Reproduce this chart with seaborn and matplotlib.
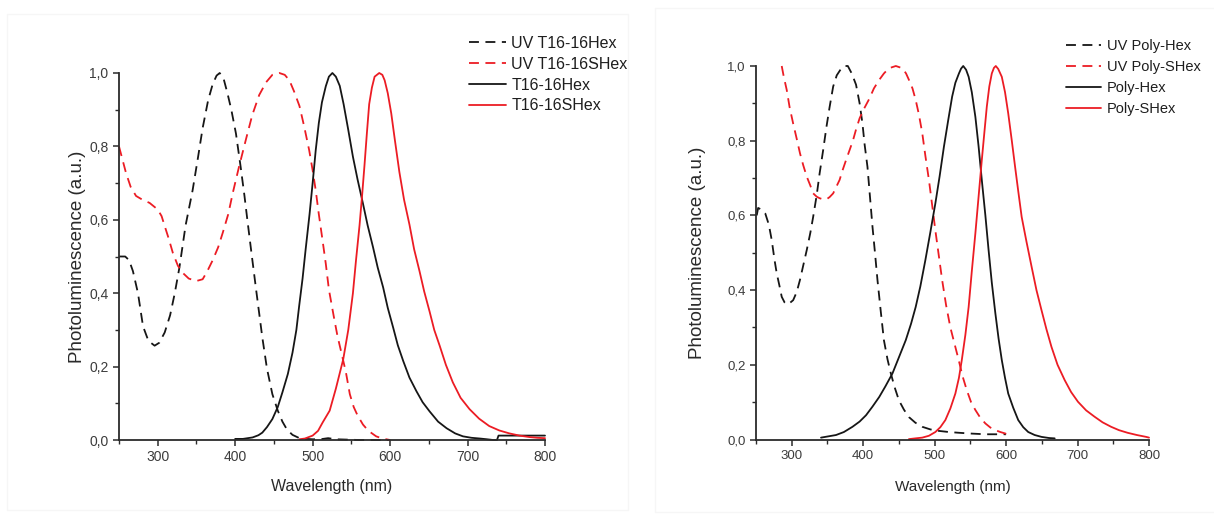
import numpy as np
import pandas as pd
import matplotlib
matplotlib.use("Agg")
import matplotlib.pyplot as plt
from matplotlib.ticker import MultipleLocator, FuncFormatter
from matplotlib.patches import Rectangle
import seaborn as sns

# ---------------- data: left panel (T16-16 oligomers) ----------------
uv_t16_hex_wl = [250, 258, 263, 268, 274.5, 281, 288, 296, 302, 309, 316, 322, 328, 336, 345,
                 352, 358, 365, 371, 376, 380, 385, 390, 395, 401, 407, 412, 416, 421, 427,
                 431, 435, 441, 448, 455, 461, 467, 474, 482, 491, 500, 510, 520, 530, 545,
                 560, 580, 600]
uv_t16_hex = [0.50, 0.50, 0.49, 0.46, 0.40, 0.31, 0.27, 0.257, 0.265, 0.293, 0.34, 0.40, 0.47,
              0.585, 0.68, 0.77, 0.85, 0.925, 0.97, 0.993, 1.0, 0.985, 0.945, 0.90, 0.835,
              0.745, 0.665, 0.595, 0.51, 0.41, 0.345, 0.28, 0.195, 0.125, 0.08, 0.05, 0.028,
              0.014, 0.006, 0.003, 0.002, 0.002, 0.005, 0.002, 0.001, 0.0, 0.0, 0.0]

uv_t16_shex_wl = [250, 255, 259, 265, 272, 280, 289.5, 300, 305, 309, 314, 319.5, 326, 332, 340,
                  349.5, 358, 364, 371, 378, 384, 391, 397, 405, 414, 422, 431, 440, 448, 457,
                  464, 470, 476, 483, 489, 495.5, 500, 504, 508, 512.6, 517, 521, 527, 532, 538,
                  543, 548, 553, 558, 565, 572, 582, 590, 600]
uv_t16_shex = [0.80, 0.76, 0.728, 0.69, 0.665, 0.655, 0.646, 0.628, 0.61, 0.583, 0.55, 0.51,
               0.475, 0.456, 0.44, 0.433, 0.438, 0.46, 0.49, 0.525, 0.565, 0.615, 0.674, 0.745,
               0.82, 0.885, 0.94, 0.975, 0.995, 1.0, 0.995, 0.98, 0.95, 0.91, 0.855, 0.79,
               0.735, 0.68, 0.615, 0.547, 0.48, 0.41, 0.34, 0.284, 0.23, 0.184, 0.125, 0.09,
               0.067, 0.042, 0.025, 0.01, 0.004, 0.0]

t16_hex_wl = [400, 410, 422.5, 430, 435, 441, 448, 455, 461, 468, 474, 479, 482.6, 487, 491,
              496, 500, 504, 508, 512, 517, 521, 525.5, 530, 535, 540, 546, 552, 558, 565,
              571, 578, 584, 591, 597, 604, 610, 617, 625, 634, 642, 651, 662, 673, 684, 694,
              705, 716, 725, 733, 738, 740, 750, 770, 800]
t16_hex = [0.003, 0.003, 0.007, 0.013, 0.02, 0.035, 0.057, 0.09, 0.13, 0.18, 0.238, 0.30,
           0.365, 0.44, 0.52, 0.615, 0.70, 0.79, 0.864, 0.92, 0.964, 0.99, 1.0, 0.99, 0.965,
           0.915, 0.845, 0.772, 0.71, 0.644, 0.585, 0.525, 0.47, 0.416, 0.36, 0.306, 0.258,
           0.215, 0.17, 0.133, 0.103, 0.078, 0.05, 0.032, 0.018, 0.01, 0.006, 0.004, 0.002,
           0.0, 0.0, 0.012, 0.012, 0.012, 0.012]

t16_shex_wl = [483, 490, 500, 507, 513, 522, 530, 539.5, 546, 552, 556, 560.6, 564, 567, 570,
               573, 576.5, 580, 586, 590, 593, 597, 601.5, 606, 612, 618, 625, 631, 638, 644,
               651, 657, 664, 672, 681, 691, 702.6, 715, 728, 741, 754, 767, 780, 790, 800]
t16_shex = [0.002, 0.004, 0.012, 0.025, 0.048, 0.08, 0.14, 0.22, 0.30, 0.40, 0.49, 0.586,
            0.67, 0.75, 0.835, 0.915, 0.96, 0.99, 1.0, 0.995, 0.98, 0.945, 0.89, 0.82, 0.73,
            0.655, 0.587, 0.52, 0.46, 0.405, 0.35, 0.30, 0.257, 0.205, 0.157, 0.115, 0.084,
            0.058, 0.038, 0.026, 0.018, 0.012, 0.008, 0.006, 0.005]

# ---------------- data: right panel (polymers) ----------------
uv_poly_hex_wl = [251, 253, 258, 263, 268, 272, 276, 279, 283, 286, 290, 293, 297, 302, 307,
                  311.5, 316, 321, 326, 330, 335, 339, 344, 348.6, 353, 358, 363, 369.5, 374,
                  378.5, 384, 390, 395, 399, 402, 406, 409.5, 413, 416.5, 420, 424.5, 429, 434,
                  438.7, 444, 450, 457, 464, 473, 482.7, 494, 506, 520, 534, 550, 571, 600]
uv_poly_hex = [0.60, 0.62, 0.615, 0.605, 0.575, 0.534, 0.48, 0.445, 0.41, 0.382, 0.367, 0.362,
               0.365, 0.373, 0.395, 0.427, 0.465, 0.507, 0.553, 0.596, 0.655, 0.712, 0.775,
               0.837, 0.89, 0.945, 0.975, 0.994, 1.0, 1.0, 0.98, 0.95, 0.90, 0.846, 0.79, 0.73,
               0.65, 0.57, 0.50, 0.427, 0.345, 0.266, 0.215, 0.177, 0.14, 0.105, 0.08, 0.06,
               0.045, 0.034, 0.027, 0.023, 0.02, 0.018, 0.016, 0.014, 0.014]

uv_poly_shex_wl = [286, 289, 293, 297, 302, 307, 311.6, 316, 321, 326, 330, 335, 339, 344, 348.6,
                   353, 358, 362, 367, 371, 376, 381, 385.6, 390, 395, 401, 408.5, 415, 422.5,
                   429, 436, 445.7, 455, 460, 464, 469, 473.5, 478, 482.7, 487, 492, 496.5, 501,
                   506, 510.5, 516, 522, 528, 533.7, 539, 545, 551, 557, 564, 571, 578, 585, 592,
                   599, 600]
uv_poly_shex = [1.0, 0.97, 0.936, 0.89, 0.846, 0.805, 0.766, 0.735, 0.704, 0.68, 0.659, 0.65,
                0.646, 0.643, 0.643, 0.649, 0.659, 0.675, 0.695, 0.72, 0.748, 0.775, 0.80, 0.83,
                0.86, 0.885, 0.912, 0.94, 0.963, 0.98, 0.994, 1.0, 0.994, 0.98, 0.963, 0.94,
                0.909, 0.87, 0.82, 0.76, 0.695, 0.628, 0.56, 0.49, 0.427, 0.36, 0.30, 0.255,
                0.2125, 0.17, 0.132, 0.10, 0.079, 0.058, 0.043, 0.032, 0.025, 0.02, 0.016, 0.015]

poly_hex_wl = [341, 350, 362, 373, 385, 395, 404, 413, 422.5, 431, 441, 450, 459.6, 467, 473.5,
               480, 487, 494, 501, 507, 513, 519, 524.5, 529, 534, 537, 540, 544, 547.6, 552,
               557, 561.5, 566, 571, 575.5, 580, 585, 589.5, 594, 598.5, 603, 610, 617, 624,
               631, 640, 649.6, 660, 668]
poly_hex = [0.005, 0.008, 0.012, 0.02, 0.034, 0.048, 0.065, 0.088, 0.114, 0.142, 0.177, 0.22,
            0.266, 0.31, 0.355, 0.41, 0.48, 0.555, 0.632, 0.705, 0.784, 0.855, 0.918, 0.955,
            0.98, 0.993, 1.0, 0.99, 0.971, 0.93, 0.864, 0.785, 0.695, 0.60, 0.507, 0.42,
            0.3375, 0.27, 0.2125, 0.165, 0.123, 0.085, 0.052, 0.033, 0.02, 0.012, 0.007,
            0.004, 0.003]

poly_shex_wl = [464, 473, 482.7, 492, 501, 508, 515, 522, 529, 534, 538, 543, 547.6, 552, 557,
                561.5, 566, 569.5, 573, 576.5, 580, 583, 585.6, 589, 594, 598.5, 603, 608,
                612.6, 617, 621.8, 628.5, 635.7, 642.5, 649.6, 656.5, 663.5, 672, 682, 691,
                700.6, 712, 723.8, 735, 747, 758, 770, 783, 796, 800]
poly_shex = [0.001, 0.003, 0.005, 0.01, 0.02, 0.033, 0.052, 0.083, 0.123, 0.165, 0.2125, 0.28,
             0.355, 0.45, 0.552, 0.65, 0.748, 0.82, 0.891, 0.945, 0.98, 0.995, 1.0, 0.992,
             0.971, 0.93, 0.873, 0.80, 0.73, 0.665, 0.596, 0.53, 0.4625, 0.40, 0.346, 0.295,
             0.248, 0.20, 0.159, 0.127, 0.101, 0.078, 0.061, 0.046, 0.034, 0.025, 0.018,
             0.012, 0.007, 0.005]

left_labels = ["UV T16-16Hex", "UV T16-16SHex", "T16-16Hex", "T16-16SHex"]
right_labels = ["UV Poly-Hex", "UV Poly-SHex", "Poly-Hex", "Poly-SHex"]
x_ticks = [300, 400, 500, 600, 700, 800]
y_ticks = [0.0, 0.2, 0.4, 0.6, 0.8, 1.0]

BLACK = "#161616"
RED = "#ec1c24"


def long_frame(labels, series):
    frames = []
    for lab, (wl, val) in zip(labels, series):
        frames.append(pd.DataFrame({"wavelength": wl, "intensity": val, "series": lab}))
    return pd.concat(frames, ignore_index=True)


left_df = long_frame(left_labels, [(uv_t16_hex_wl, uv_t16_hex), (uv_t16_shex_wl, uv_t16_shex),
                                   (t16_hex_wl, t16_hex), (t16_shex_wl, t16_shex)])
right_df = long_frame(right_labels, [(uv_poly_hex_wl, uv_poly_hex), (uv_poly_shex_wl, uv_poly_shex),
                                     (poly_hex_wl, poly_hex), (poly_shex_wl, poly_shex)])

sns.set_theme(style="white")
plt.rcParams["font.family"] = ["Liberation Sans", "DejaVu Sans"]

fig = plt.figure(figsize=(12.14, 5.17), dpi=100)
fig.patch.set_facecolor("white")

# very faint frames around each panel
fig.patches.append(Rectangle((7 / 1214, 1 - 510 / 517), 621 / 1214, 496 / 517,
                             transform=fig.transFigure, fill=False,
                             edgecolor="#f6f6f6", lw=1.0))
fig.patches.append(Rectangle((655 / 1214, 1 - 512 / 517), 560 / 1214, 504 / 517,
                             transform=fig.transFigure, fill=False,
                             edgecolor="#f6f6f6", lw=1.0))

ax_l = fig.add_axes([119 / 1214, 1 - 440 / 517, 426 / 1214, 367 / 517])
ax_r = fig.add_axes([756 / 1214, 1 - 439.5 / 517, 393 / 1214, 373.5 / 517])

comma_fmt = FuncFormatter(lambda v, pos: f"{v:.1f}".replace(".", ","))


def draw_panel(ax, df, labels, tick_fs, label_fs, ylab_fs, legend_fs, ylabel_x, xlabel_y,
               legend_anchor, handle_len, text_pad, spacing):
    palette = {labels[0]: BLACK, labels[1]: RED, labels[2]: BLACK, labels[3]: RED}
    dashes = {labels[0]: (5.5, 3.6), labels[1]: (5.5, 3.6), labels[2]: "", labels[3]: ""}
    sns.lineplot(data=df, x="wavelength", y="intensity", hue="series", style="series",
                 hue_order=labels, style_order=labels, palette=palette, dashes=dashes,
                 sort=False, estimator=None, linewidth=1.3, ax=ax)
    for ln in ax.lines:
        ln.set_clip_on(False)
        ln.set_solid_joinstyle("round")

    ax.set_xlim(250, 800)
    ax.set_ylim(0, 1.0)
    ax.set_xticks(x_ticks)
    ax.set_yticks(y_ticks)
    ax.xaxis.set_minor_locator(MultipleLocator(50))
    ax.yaxis.set_minor_locator(MultipleLocator(0.1))
    ax.yaxis.set_major_formatter(comma_fmt)

    for side in ("top", "right"):
        ax.spines[side].set_visible(False)
    for side in ("left", "bottom"):
        ax.spines[side].set_color("#2b2b2b")
        ax.spines[side].set_linewidth(1.3)
    ax.tick_params(which="major", direction="out", length=4.5, width=1.1, color="#2b2b2b",
                   labelsize=tick_fs, labelcolor="#3c3c3c", pad=3,
                   bottom=True, left=True)
    ax.tick_params(which="minor", direction="out", length=2.8, width=1.0, color="#2b2b2b",
                   bottom=True, left=True)

    ax.set_xlabel("Wavelength (nm)", fontsize=label_fs, color="#2a2a2a")
    ax.set_ylabel("Photoluminescence (a.u.)", fontsize=ylab_fs, color="#2a2a2a")
    ax.xaxis.set_label_coords(0.5, xlabel_y)
    ax.yaxis.set_label_coords(ylabel_x, 0.5)
    ax.set_facecolor("none")

    handles, labs = ax.get_legend_handles_labels()
    ax.legend(handles, labs, loc="upper left", bbox_to_anchor=legend_anchor,
              bbox_transform=fig.transFigure, frameon=False, fontsize=legend_fs,
              handlelength=handle_len, handletextpad=text_pad, labelspacing=spacing,
              borderpad=0, borderaxespad=0)
    for t in ax.get_legend().get_texts():
        t.set_color("#1e1e1e")


draw_panel(ax_l, left_df, left_labels, tick_fs=10, label_fs=11.5, ylab_fs=13.5,
           legend_fs=11.5, ylabel_x=-0.078, xlabel_y=-0.105,
           legend_anchor=(469 / 1214, 1 - 36 / 517), handle_len=2.3, text_pad=0.35,
           spacing=0.36)
draw_panel(ax_r, right_df, right_labels, tick_fs=9.5, label_fs=11, ylab_fs=13.5,
           legend_fs=10.5, ylabel_x=-0.128, xlabel_y=-0.108,
           legend_anchor=(1066 / 1214, 1 - 39 / 517), handle_len=2.4, text_pad=0.42,
           spacing=0.48)

fig.savefig("out.png", dpi=100, facecolor="white")
